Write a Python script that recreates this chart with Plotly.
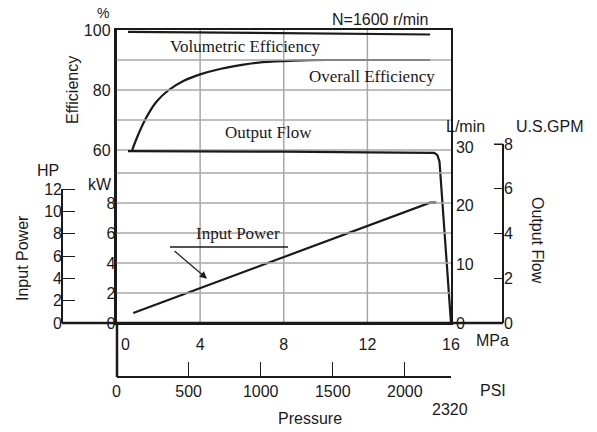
import plotly.graph_objects as go

# ---------------- data ----------------
vol_p = [0.55, 4, 8, 12, 15.0]
vol_eff = [99.4, 99.2, 99.0, 98.8, 98.5]

ovr_p = [0.75, 1.0, 1.4, 1.9, 2.5, 3.2, 4.0, 5.0, 6.0, 7.0, 8.5, 10, 15.0]
ovr_eff = [60, 64.5, 70.5, 76, 80, 83, 85.2, 87.1, 88.4, 89.3, 89.8, 90, 90]

flow_p = [0.55, 4, 8, 12, 15.2, 15.35, 15.45, 16.0]
flow_lpm = [29.3, 29.3, 29.2, 29.1, 29.0, 28.6, 27.5, 0]

pow_p = [0.8, 4, 8, 12, 14.75, 15.0, 15.3]
pow_kw = [0.67, 2.33, 4.42, 6.45, 7.92, 8.02, 8.02]

mpa_ticks = [0, 4, 8, 12, 16]
mpa_text = ["\u00a0\u00a0\u00a0\u00a00", "4", "8", "12", "16"]
psi_ticks = [0, 500, 1000, 1500, 2000]
eff_ticks = [60, 70, 80, 90, 100]
eff_text = ["60", "", "80", "", "100"]
kw_ticks = [0, 2, 4, 6, 8, 10]
kw_text = ["0", "2", "4", "6", "8", ""]
lpm_ticks = [0, 10, 20, 30]
gpm_ticks = [0, 2, 4, 6, 8]
hp_ticks = [0, 2, 4, 6, 8, 10, 12]

# ---------------- layout helpers ----------------
W, H = 597, 432
def PX(x):
    return x / W
def PY(y):
    return 1 - y / H

SANS = "Liberation Sans"
SERIF = "Liberation Serif"
INK = "#1a1a1a"
GRID = "#a8a8a8"
tickfont = dict(family=SANS, size=16, color=INK)

PLOT_H = 323 - 30  # plot area height in px (y=30 .. y=323)

xdom = [PX(116.5), PX(451)]
ydom = [PY(323), PY(30)]
eff_range = [100 - PLOT_H / 3, 100]
kw_range = [0, PLOT_H / 15]
lpm_range = [0, PLOT_H / (176 / 30)]
gpm_range = [0, PLOT_H / (179 / 8)]
hp_range = [0, PLOT_H / (134 / 12)]

def on_scale(v, rng):
    """paper-y position of value v on a y scale spanning the plot domain"""
    return ydom[0] + (v - rng[0]) / (rng[1] - rng[0]) * (ydom[1] - ydom[0])

fig = go.Figure()
line_style = dict(color=INK, width=2.2)

fig.add_trace(go.Scatter(x=vol_p, y=vol_eff, mode="lines", line=line_style,
                         xaxis="x", yaxis="y", hoverinfo="skip"))
fig.add_trace(go.Scatter(x=ovr_p, y=ovr_eff, mode="lines",
                         line=dict(line_style, shape="spline", smoothing=0.6),
                         xaxis="x", yaxis="y", hoverinfo="skip"))
fig.add_trace(go.Scatter(x=pow_p, y=pow_kw, mode="lines", line=line_style,
                         xaxis="x", yaxis="y2", hoverinfo="skip"))
fig.add_trace(go.Scatter(x=flow_p, y=flow_lpm, mode="lines", line=line_style,
                         xaxis="x", yaxis="y3", hoverinfo="skip"))
# invisible anchors so the secondary scales are drawn
for xa, ya in [("x", "y4"), ("x", "y5"), ("x2", "y")]:
    fig.add_trace(go.Scatter(x=[0], y=[0], mode="markers", marker=dict(opacity=0),
                             xaxis=xa, yaxis=ya, hoverinfo="skip"))

fig.update_layout(
    width=W, height=H,
    margin=dict(l=0, r=0, t=0, b=0, autoexpand=False),
    paper_bgcolor="white", plot_bgcolor="rgba(0,0,0,0)",
    showlegend=False,
    xaxis=dict(domain=xdom, range=[0, 16], anchor="y",
               tickvals=mpa_ticks, ticktext=mpa_text, ticks="", tickfont=tickfont,
               ticklabelstandoff=6, showgrid=False,
               showline=True, linecolor=INK, linewidth=2, mirror=True,
               zeroline=False),
    xaxis2=dict(range=[0, 2320], overlaying="x", anchor="free", position=PY(377),
                tickvals=psi_ticks, ticks="inside", ticklen=14, tickwidth=1,
                tickcolor=INK, tickfont=tickfont,
                showgrid=False, showline=True, linecolor=INK, linewidth=2,
                zeroline=False),
    yaxis=dict(domain=ydom, range=eff_range, anchor="x", side="left",
               tickvals=eff_ticks, ticktext=eff_text, ticks="", tickfont=tickfont,
               showgrid=False,
               showline=True, linecolor=INK, linewidth=2.5, zeroline=False),
    yaxis2=dict(range=kw_range, overlaying="y", anchor="x", side="left",
                tickvals=kw_ticks, ticktext=kw_text, ticks="", tickfont=tickfont,
                showgrid=False, showline=False, zeroline=False),
    yaxis3=dict(range=lpm_range, overlaying="y", anchor="x", side="right",
                tickvals=lpm_ticks, ticks="", tickfont=tickfont,
                showgrid=False, showline=True, linecolor=INK, linewidth=1.5,
                zeroline=False),
    yaxis4=dict(range=gpm_range, overlaying="y", anchor="free",
                position=PX(503), side="right",
                tickvals=gpm_ticks, ticks="inside", ticklen=9, tickwidth=1,
                tickcolor=INK, tickfont=tickfont,
                showgrid=False, showline=False, zeroline=False),
    yaxis5=dict(range=hp_range, overlaying="y", anchor="free",
                position=PX(62), side="left",
                tickvals=hp_ticks, ticks="inside", ticklen=12, tickwidth=1,
                tickcolor=INK, tickfont=tickfont,
                showgrid=False, showline=False, zeroline=False),
)

# grid lines placed at the tick values of each scale
vgrid = dict(color=GRID, width=1.5)
hgrid = dict(color=GRID, width=1.5)
for v in mpa_ticks[1:-1]:
    fig.add_shape(type="line", xref="x", yref="paper", x0=v, x1=v,
                  y0=ydom[0], y1=ydom[1], layer="below", line=vgrid)
for v in eff_ticks[:-1]:
    yp = on_scale(v, eff_range)
    fig.add_shape(type="line", xref="x", yref="paper", x0=0, x1=16,
                  y0=yp, y1=yp, layer="below" if v == 60 else "above", line=hgrid)
for v in kw_ticks[1:]:
    yp = on_scale(v, kw_range)
    fig.add_shape(type="line", xref="x", yref="paper", x0=0, x1=16,
                  y0=yp, y1=yp, layer="above", line=hgrid)

def seg(x0, y0, x1, y1, w=2, color=INK):
    fig.add_shape(type="line", xref="paper", yref="paper",
                  x0=PX(x0), y0=PY(y0), x1=PX(x1), y1=PY(y1),
                  line=dict(color=color, width=w))

seg(62, 323, 503, 323, 2.5)      # common base line
seg(117, 323, 117, 377, 2.5)     # link to PSI scale
seg(62, 189, 62, 323, 2)         # HP scale line
seg(503, 144, 503, 323, 2)       # GPM scale line
seg(494, 144, 503, 144, 1)       # GPM top cap
seg(170, 247, 288, 247, 1.5)     # underline of "Input Power"

def label(x, y, text, size=16, family=SANS, angle=0, xanchor="center"):
    fig.add_annotation(xref="paper", yref="paper", x=PX(x), y=PY(y), text=text,
                       showarrow=False, textangle=angle, xanchor=xanchor, yanchor="middle",
                       font=dict(family=family, size=size, color=INK))

label(103, 13, "%", 14)
label(72, 90, "Efficiency", 16, angle=-90)
label(380, 19, "N=1600 r/min", 16)
label(245, 47, "Volumetric Efficiency", 17, SERIF)
label(372, 77, "Overall Efficiency", 17, SERIF)
label(268, 132, "Output Flow", 17, SERIF)
label(238, 233, "Input Power", 17, SERIF)
label(465, 127, "L/min", 16)
label(550, 127, "U.S.GPM", 16)
label(48, 171, "HP", 16)
label(100, 184, "kW", 16)
label(22, 258, "Input Power", 16, angle=-90)
label(538, 240, "Output Flow", 16, angle=90)
label(492, 340, "MPa", 16)
label(493, 390, "PSI", 16)
label(450, 409, "2320", 16)
label(310, 418, "Pressure", 16)

# leader arrow to the input power curve
fig.add_annotation(x=4.33, y=2.95, xref="x", yref="y2", text="", showarrow=True,
                   ax=-34, ay=-29, arrowhead=2, arrowsize=1.2, arrowwidth=1.2,
                   arrowcolor=INK)

fig.write_html("out.html", config={"displayModeBar": False},
               post_script="document.body.style.margin='0';document.body.style.padding='0';")
